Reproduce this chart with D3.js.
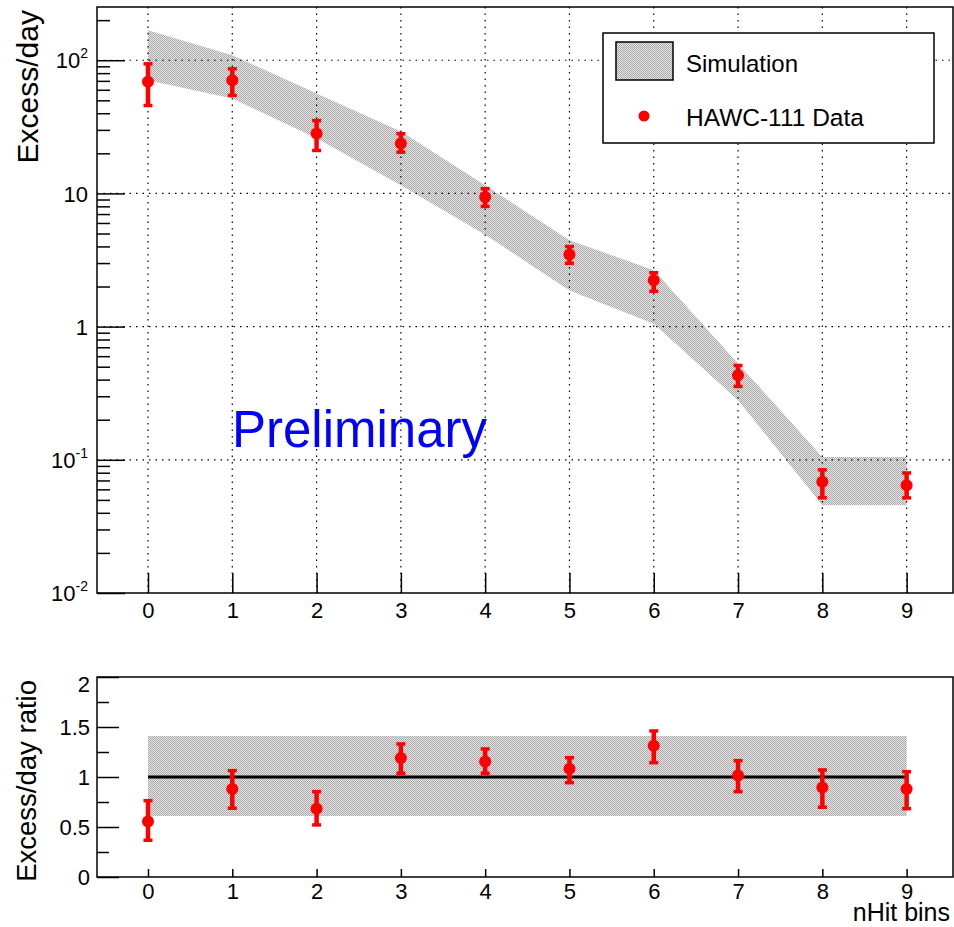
<!DOCTYPE html>
<html>
<head>
<meta charset="utf-8">
<script src="https://cdn.jsdelivr.net/npm/d3@7"></script>
<style>
  html, body { margin: 0; padding: 0; background: #fff; }
  svg { display: block; }
  text { font-family: "Liberation Sans", Arial, Helvetica, sans-serif; fill: #000; }
</style>
</head>
<body>
<svg id="chart" width="954" height="927"></svg>
<script>
// ---------------- data ----------------
const bins = [0, 1, 2, 3, 4, 5, 6, 7, 8, 9];
const binLabels = ["0", "1", "2", "3", "4", "5", "6", "7", "8", "9"];

// Simulation band (Excess/day), lower and upper edges
const simLower = [70.8, 51.6, 26.0, 11.5, 4.9, 1.87, 1.05, 0.28, 0.0456, 0.0456];
const simUpper = [168, 109, 56.2, 29.2, 11.5, 4.46, 2.65, 0.528, 0.105, 0.105];

// HAWC-111 data (Excess/day)
const dataVal = [68.8, 70.8, 28.2, 23.7, 9.41, 3.48, 2.23, 0.431, 0.0683, 0.0645];
const dataHi  = [94.4, 86.6, 35.4, 28.2, 10.9, 4.01, 2.55, 0.513, 0.0845, 0.080];
const dataLo  = [45.9, 54.6, 21.1, 20.5, 8.02, 3.0, 1.85, 0.357, 0.0521, 0.052];

// Ratio panel
const ratioVal = [0.556, 0.88, 0.683, 1.19, 1.156, 1.083, 1.313, 1.016, 0.896, 0.88];
const ratioHi  = [0.766, 1.066, 0.856, 1.333, 1.283, 1.196, 1.463, 1.166, 1.073, 1.056];
const ratioLo  = [0.37, 0.69, 0.523, 1.04, 1.04, 0.946, 1.146, 0.856, 0.70, 0.686];
const ratioBandLo = 0.61, ratioBandHi = 1.41;
const ratioRef = 1;

const logMajor = [0.01, 0.1, 1, 10, 100];
const logMajorLabels = [["10", "-2"], ["10", "-1"], ["1", ""], ["10", ""], ["10", "2"]];
const ratioTicks = [0, 0.5, 1, 1.5, 2];
const ratioTickLabels = ["0", "0.5", "1", "1.5", "2"];

// ---------------- layout ----------------
const svg = d3.select("#chart");
const L = 97, R = 953;
const topT = 7, topB = 593;
const botT = 677, botB = 877;

const x = d3.scaleLinear().domain([-0.605, 9.55]).range([L, R]);
const y = d3.scaleLog().domain([0.01, 251]).range([topB, topT]);
const yr = d3.scaleLinear().domain([0, 2]).range([botB, botT]);

// pattern for the dotted band fill
const defs = svg.append("defs");
const pat = defs.append("pattern").attr("id", "hatch")
  .attr("patternUnits", "userSpaceOnUse").attr("width", 2).attr("height", 2);
pat.append("rect").attr("width", 2).attr("height", 2).attr("fill", "#e4e4e4");
pat.append("rect").attr("x", 0).attr("y", 0).attr("width", 1).attr("height", 1).attr("fill", "#ababab");
pat.append("rect").attr("x", 1).attr("y", 1).attr("width", 1).attr("height", 1).attr("fill", "#ababab");

// ---------------- top panel ----------------
const topG = svg.append("g");

// band
const area = d3.area()
  .x((d, i) => x(bins[i]))
  .y0((d, i) => y(simLower[i]))
  .y1((d, i) => y(simUpper[i]));
topG.append("path").datum(bins).attr("d", area).attr("fill", "url(#hatch)");

// grid
const dash = "1.5,5";
topG.append("g").selectAll("line").data(bins).join("line")
  .attr("x1", d => x(d)).attr("x2", d => x(d))
  .attr("y1", topT).attr("y2", topB)
  .attr("stroke", "#000").attr("stroke-width", 1.2).attr("stroke-dasharray", dash);
topG.append("g").selectAll("line").data(logMajor.filter(v => v > 0.01)).join("line")
  .attr("x1", L).attr("x2", R)
  .attr("y1", d => y(d)).attr("y2", d => y(d))
  .attr("stroke", "#000").attr("stroke-width", 1.2).attr("stroke-dasharray", dash);

// y axis (log)
const minorVals = [];
for (let e = -2; e <= 2; e++) for (let m = 1; m <= 9; m++) {
  const v = m * Math.pow(10, e);
  if (v >= 0.01 && v <= 251) minorVals.push(v);
}
const yAxis = d3.axisLeft(y).tickValues(minorVals).tickSizeInner(-28).tickSizeOuter(0)
  .tickPadding(9).tickFormat("");
const yAxG = topG.append("g").attr("transform", `translate(${L},0)`).call(yAxis);
yAxG.select(".domain").remove();
yAxG.selectAll(".tick line").attr("stroke-width", 1.5)
  .attr("x2", d => logMajor.some(m => Math.abs(Math.log10(m) - Math.log10(d)) < 1e-9) ? 28 : 13);
yAxG.selectAll(".tick text").each(function(d) {
  const idx = logMajor.findIndex(m => Math.abs(Math.log10(m) - Math.log10(d)) < 1e-9);
  const t = d3.select(this);
  if (idx < 0) { t.remove(); return; }
  const [base, exp] = logMajorLabels[idx];
  t.attr("font-size", 22).attr("x", -9).attr("dy", "0.35em").attr("text-anchor", "end");
  t.append("tspan").text(base);
  if (exp) t.append("tspan").attr("font-size", 14).attr("dy", "-0.75em").text(exp);
});

// x axis top
const xAxisTop = d3.axisBottom(x).tickValues(bins).tickSizeInner(-20).tickSizeOuter(0)
  .tickPadding(8).tickFormat((d, i) => binLabels[i]);
const xAxG = topG.append("g").attr("transform", `translate(0,${topB})`).call(xAxisTop);
xAxG.select(".domain").remove();
xAxG.selectAll(".tick line").attr("stroke-width", 1.5);
xAxG.selectAll(".tick text").attr("font-size", 22).attr("dy", "0.75em");

// frame
topG.append("rect").attr("x", L).attr("y", topT).attr("width", R - L).attr("height", topB - topT)
  .attr("fill", "none").attr("stroke", "#000").attr("stroke-width", 1.5);

// data points
function drawPoints(g, xs, vals, his, los, ys) {
  const pg = g.append("g").attr("fill", "#f00").attr("stroke", "#f00");
  xs.forEach((b, i) => {
    const cx = x(b);
    pg.append("line").attr("x1", cx).attr("x2", cx)
      .attr("y1", ys(his[i])).attr("y2", ys(los[i])).attr("stroke-width", 4.5);
    [his[i], los[i]].forEach(v => {
      pg.append("rect").attr("x", cx - 4.5).attr("y", ys(v) - 1.5)
        .attr("width", 9).attr("height", 3.5).attr("stroke", "none");
    });
    pg.append("circle").attr("cx", cx).attr("cy", ys(vals[i])).attr("r", 6).attr("stroke", "none");
  });
}
drawPoints(topG, bins, dataVal, dataHi, dataLo, y);

// y title
topG.append("text").attr("transform", `translate(38,10) rotate(-90)`)
  .attr("text-anchor", "end").attr("font-size", 30).text("Excess/day");

// Preliminary
topG.append("text").attr("x", 232).attr("y", 447).attr("font-size", 51)
  .style("fill", "#0000ff").text("Preliminary");

// legend
const lg = topG.append("g");
lg.append("rect").attr("x", 603).attr("y", 33).attr("width", 331).attr("height", 110)
  .attr("fill", "#fff").attr("stroke", "#000").attr("stroke-width", 1.5);
lg.append("rect").attr("x", 616).attr("y", 42).attr("width", 57).attr("height", 38)
  .attr("fill", "url(#hatch)").attr("stroke", "#000").attr("stroke-width", 1.5);
lg.append("text").attr("x", 686).attr("y", 72).attr("font-size", 24).text("Simulation");
lg.append("circle").attr("cx", 644).attr("cy", 116).attr("r", 5.5).attr("fill", "#f00");
lg.append("text").attr("x", 686).attr("y", 126).attr("font-size", 24.5).text("HAWC-111 Data");

// ---------------- bottom panel ----------------
const botG = svg.append("g");
botG.append("rect").attr("x", x(bins[0])).attr("width", x(bins[bins.length - 1]) - x(bins[0]))
  .attr("y", yr(ratioBandHi)).attr("height", yr(ratioBandLo) - yr(ratioBandHi))
  .attr("fill", "url(#hatch)");
botG.append("line").attr("x1", x(bins[0])).attr("x2", x(bins[bins.length - 1]))
  .attr("y1", yr(ratioRef)).attr("y2", yr(ratioRef)).attr("stroke", "#000").attr("stroke-width", 3);

// y axis bottom
const rMinor = d3.range(0, 2.0001, 0.25);
const yrAxis = d3.axisLeft(yr).tickValues(rMinor).tickSizeInner(-22).tickSizeOuter(0)
  .tickPadding(7).tickFormat(d => {
    const i = ratioTicks.findIndex(t => Math.abs(t - d) < 1e-9);
    return i >= 0 ? ratioTickLabels[i] : "";
  });
const yrG = botG.append("g").attr("transform", `translate(${L},0)`).call(yrAxis);
yrG.select(".domain").remove();
yrG.selectAll(".tick line").attr("stroke-width", 1.5)
  .attr("x2", d => ratioTicks.some(t => Math.abs(t - d) < 1e-9) ? 22 : 12);
yrG.selectAll(".tick text").attr("font-size", 22)
  .attr("dy", d => Math.abs(d - 2) < 1e-9 ? "0.65em" : "0.35em");

// x axis bottom
const xAxisBot = d3.axisBottom(x).tickValues(bins).tickSizeInner(-8).tickSizeOuter(0)
  .tickPadding(6).tickFormat((d, i) => binLabels[i]);
const xbG = botG.append("g").attr("transform", `translate(0,${botB})`).call(xAxisBot);
xbG.select(".domain").remove();
xbG.selectAll(".tick line").attr("stroke-width", 1.5);
xbG.selectAll(".tick text").attr("font-size", 22).attr("dy", "0.72em");

botG.append("rect").attr("x", L).attr("y", botT).attr("width", R - L).attr("height", botB - botT)
  .attr("fill", "none").attr("stroke", "#000").attr("stroke-width", 1.5);

drawPoints(botG, bins, ratioVal, ratioHi, ratioLo, yr);

botG.append("text").attr("transform", `translate(36,680) rotate(-90)`)
  .attr("text-anchor", "end").attr("font-size", 27.5).text("Excess/day ratio");

botG.append("text").attr("x", 950).attr("y", 921).attr("text-anchor", "end")
  .attr("font-size", 25).text("nHit bins");
</script>
</body>
</html>
